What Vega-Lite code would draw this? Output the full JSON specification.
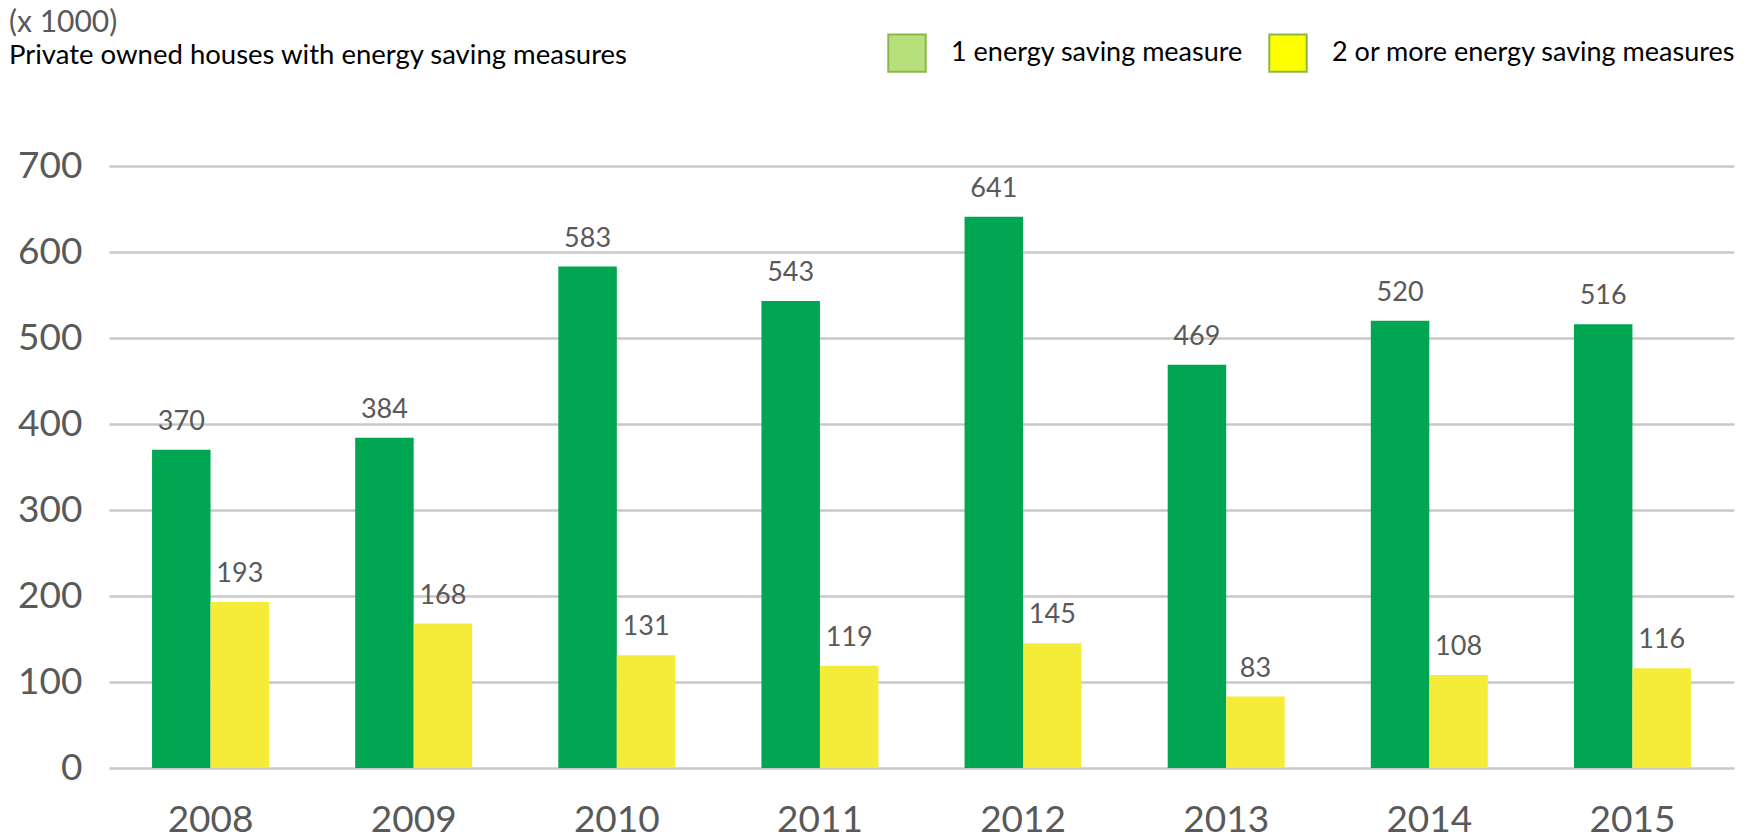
{
  "$schema": "https://vega.github.io/schema/vega-lite/v6.json",
  "width": 1625,
  "height": 602,
  "autosize": {"type": "none"},
  "padding": {"left": 109, "top": 166, "right": 12, "bottom": 70},
  "background": "white",
  "config": {"view": {"stroke": null}, "font": "Lato"},
  "title": {
    "text": "(x 1000)",
    "subtitle": "Private owned houses with energy saving measures",
    "anchor": "start",
    "frame": "group",
    "dx": -100,
    "offset": -36,
    "font": "Lato",
    "fontSize": 30,
    "fontWeight": "normal",
    "color": "#595959",
    "subtitleFont": "Lato",
    "subtitleFontSize": 27.5,
    "subtitleColor": "#000000",
    "subtitlePadding": 4
  },
  "data": {
    "values": [
      {"year": "2008", "series": "1 energy saving measure", "value": 370},
      {"year": "2008", "series": "2 or more energy saving measures", "value": 193},
      {"year": "2009", "series": "1 energy saving measure", "value": 384},
      {"year": "2009", "series": "2 or more energy saving measures", "value": 168},
      {"year": "2010", "series": "1 energy saving measure", "value": 583},
      {"year": "2010", "series": "2 or more energy saving measures", "value": 131},
      {"year": "2011", "series": "1 energy saving measure", "value": 543},
      {"year": "2011", "series": "2 or more energy saving measures", "value": 119},
      {"year": "2012", "series": "1 energy saving measure", "value": 641},
      {"year": "2012", "series": "2 or more energy saving measures", "value": 145},
      {"year": "2013", "series": "1 energy saving measure", "value": 469},
      {"year": "2013", "series": "2 or more energy saving measures", "value": 83},
      {"year": "2014", "series": "1 energy saving measure", "value": 520},
      {"year": "2014", "series": "2 or more energy saving measures", "value": 108},
      {"year": "2015", "series": "1 energy saving measure", "value": 516},
      {"year": "2015", "series": "2 or more energy saving measures", "value": 116}
    ]
  },
  "encoding": {
    "x": {
      "field": "year",
      "type": "nominal",
      "scale": {"paddingInner": 0.424, "paddingOuter": 0.212},
      "axis": {
        "title": null,
        "labelAngle": 0,
        "ticks": false,
        "domain": false,
        "labelFont": "Lato",
        "labelFontSize": 37,
        "labelColor": "#595959",
        "labelBaseline": "alphabetic",
        "labelPadding": 63
      }
    },
    "xOffset": {
      "field": "series",
      "type": "nominal",
      "sort": ["1 energy saving measure", "2 or more energy saving measures"],
      "scale": {"paddingInner": 0, "paddingOuter": 0}
    },
    "y": {
      "field": "value",
      "type": "quantitative",
      "scale": {"domain": [0, 700], "nice": false},
      "axis": {
        "title": null,
        "values": [0, 100, 200, 300, 400, 500, 600, 700],
        "domain": false,
        "ticks": false,
        "grid": true,
        "gridColor": "#C8C8C8",
        "gridWidth": 2.5,
        "labelFont": "Lato",
        "labelFontSize": 37,
        "labelColor": "#595959",
        "labelPadding": 27
      }
    }
  },
  "layer": [
    {
      "mark": {"type": "bar"},
      "encoding": {
        "fill": {
          "field": "series",
          "type": "nominal",
          "scale": {"range": ["#00A651", "#F5EC3A"]},
          "legend": null
        }
      }
    },
    {
      "mark": {
        "type": "text",
        "baseline": "alphabetic",
        "align": "center",
        "dy": -20,
        "font": "Lato",
        "fontSize": 27,
        "color": "#595959"
      },
      "encoding": {
        "text": {"field": "value", "type": "quantitative"}
      }
    },
    {
      "mark": {"type": "point", "shape": "square", "filled": true, "opacity": 0},
      "encoding": {
        "color": {
          "field": "series",
          "type": "nominal",
          "scale": {
            "domain": ["1 energy saving measure", "2 or more energy saving measures"],
            "range": ["#B6E07C", "#FFFF00"]
          },
          "legend": {
            "orient": "none",
            "legendX": 778,
            "legendY": -133,
            "direction": "horizontal",
            "title": null,
            "symbolType": "square",
            "symbolSize": 1400,
            "symbolStrokeColor": "#8DB646",
            "symbolStrokeWidth": 2,
            "symbolOpacity": 1,
            "labelFont": "Lato",
            "labelFontSize": 27,
            "labelColor": "#000000",
            "labelOffset": 24,
            "columnPadding": 22,
            "labelLimit": 600
          }
        }
      }
    }
  ]
}
